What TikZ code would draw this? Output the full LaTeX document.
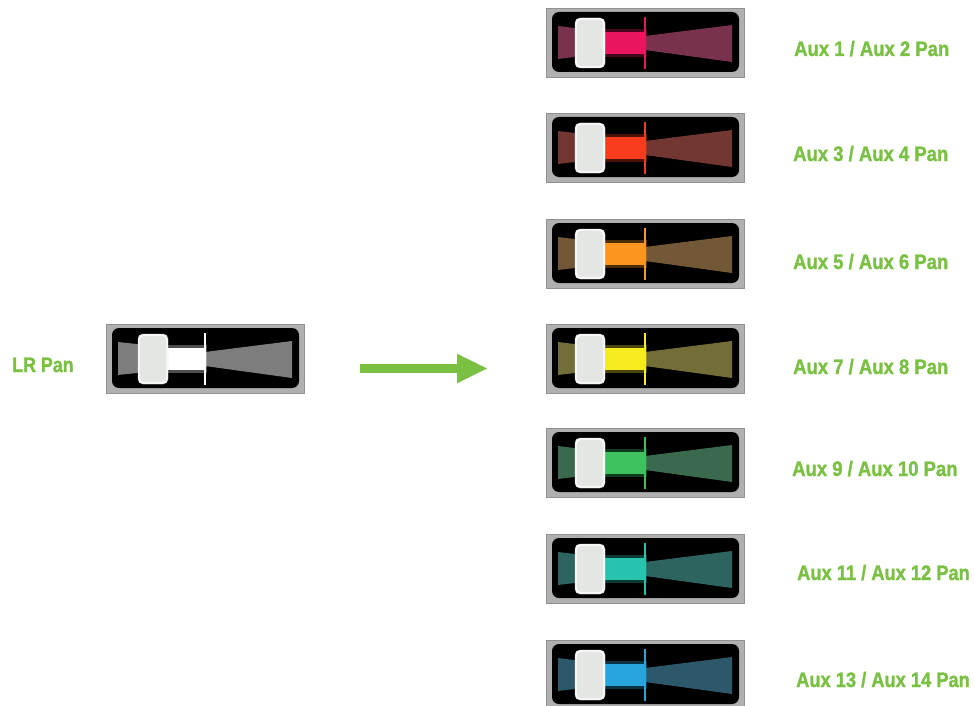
\documentclass[tikz,border=0pt]{standalone}
\usepackage{fontspec}
\setmainfont{Liberation Sans}
\newfontfamily\lblfont{Liberation Sans}[BoldFeatures={FakeBold=1.6}]
\usetikzlibrary{arrows.meta}
\definecolor{mgreen}{RGB}{122,193,67}
\definecolor{framegray}{RGB}{176,176,176}
\definecolor{frameedge}{RGB}{145,145,145}
\definecolor{knobfill}{RGB}{228,230,228}
\definecolor{lrwedge}{RGB}{125,125,125}
\definecolor{b1}{RGB}{235,20,95}\definecolor{w1}{RGB}{120,50,78}
\definecolor{b2}{RGB}{250,60,30}\definecolor{w2}{RGB}{115,55,50}
\definecolor{b3}{RGB}{250,150,30}\definecolor{w3}{RGB}{115,88,55}
\definecolor{b4}{RGB}{245,235,30}\definecolor{w4}{RGB}{115,110,55}
\definecolor{b5}{RGB}{60,195,95}\definecolor{w5}{RGB}{58,105,78}
\definecolor{b6}{RGB}{40,195,175}\definecolor{w6}{RGB}{45,100,96}
\definecolor{b7}{RGB}{40,165,220}\definecolor{w7}{RGB}{45,88,105}
\begin{document}
\begin{tikzpicture}[x=1pt,y=-1pt,
  panframe/.style={rectangle, minimum width=198pt, minimum height=69pt, inner sep=0pt,
    fill=framegray, draw=frameedge, line width=0.8pt},
  lbl/.style={anchor=base west, inner sep=0pt, text=mgreen,
    font=\lblfont\bfseries\fontsize{21}{21}\selectfont},
  bigarrow/.style={draw=mgreen, line width=9pt, -{Triangle[length=31pt,width=27pt]}}]
\useasboundingbox (0,0) rectangle (974,706);
\newcommand\panw[6]{%
  \begin{scope}[shift={(#2,#3)}]
    \node[panframe] (#1) at (99,34.5) {};
    \fill[black, rounded corners=7pt] (6,4) rectangle (193,64);
    \fill[#6] (12,18) -- (#4+8,21) -- (#4+8,48) -- (12,51) -- cycle;
    \fill[#6] (99,28) -- (186,17) -- (186,54) -- (99,42) -- cycle;
    \fill[#5, opacity=0.3] (#4+28,21) rectangle (101,49);
    \fill[#5] (#4+30,24) rectangle (99,46);
    \draw[#5, line width=1.5pt] (99,9) -- (99,61);
    \draw[knobfill, fill=knobfill, rounded corners=5pt] (#4,10) rectangle (#4+30,60);
    \draw[white, line width=1.2pt, rounded corners=5pt] (#4+1,11) rectangle (#4+29,59);
  \end{scope}}
% LR widget
\panw{lr}{106}{324}{32}{white}{lrwedge}
\node[lbl] (lrlabel) at (12,372) {\scalebox{0.85}[1]{LR Pan}};
% arrow
\coordinate (atail) at (360,368.5);
\coordinate (atip) at (488,368.5);
\draw[bigarrow] (atail) -- (atip);
% Aux widgets
\panw{a1}{546}{8}{29}{b1}{w1}
\panw{a2}{546}{113}{29}{b2}{w2}
\panw{a3}{546}{219}{29}{b3}{w3}
\panw{a4}{546}{324}{29}{b4}{w4}
\panw{a5}{546}{428}{29}{b5}{w5}
\panw{a6}{546}{534}{29}{b6}{w6}
\panw{a7}{546}{640}{29}{b7}{w7}
% labels
\node[lbl] (l1) at (794,56) {\scalebox{0.88}[1]{Aux 1 / Aux 2 Pan}};
\node[lbl] (l2) at (793,161) {\scalebox{0.88}[1]{Aux 3 / Aux 4 Pan}};
\node[lbl] (l3) at (793,269) {\scalebox{0.88}[1]{Aux 5 / Aux 6 Pan}};
\node[lbl] (l4) at (793,374) {\scalebox{0.88}[1]{Aux 7 / Aux 8 Pan}};
\node[lbl] (l5) at (792,476) {\scalebox{0.88}[1]{Aux 9 / Aux 10 Pan}};
\node[lbl] (l6) at (797,580) {\scalebox{0.87}[1]{Aux 11 / Aux 12 Pan}};
\node[lbl] (l7) at (796,687) {\scalebox{0.87}[1]{Aux 13 / Aux 14 Pan}};
\end{tikzpicture}
\end{document}
